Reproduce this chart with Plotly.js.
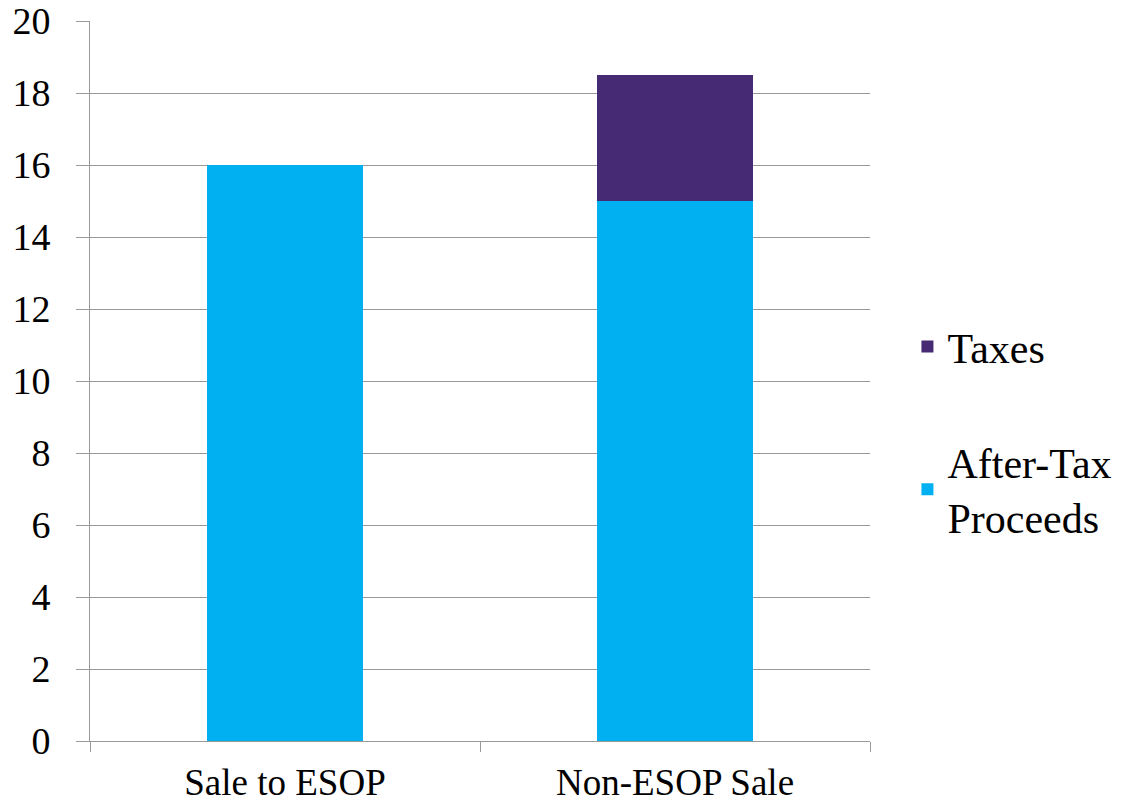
<!DOCTYPE html>
<html>
<head>
<meta charset="utf-8">
<script src="https://cdn.plot.ly/plotly-3.0.1.min.js"></script>
</head>
<body style="margin:0">
<div id="chart"></div>
<script>
const categories = ["Sale to ESOP", "Non-ESOP Sale"];
const afterTax = [16, 15];
const taxes = [0, 3.5];
const seriesNames = ["After-Tax<br>Proceeds", "Taxes"];
const yTicks = [0, 2, 4, 6, 8, 10, 12, 14, 16, 18, 20];

const fontFamily = "Liberation Serif";
const traces = [
  {type: "bar", x: categories, y: afterTax, name: seriesNames[0], legendgroup: "a", legendrank: 2,
   marker: {color: "#00B0F0"}, width: 0.4},
  {type: "bar", x: categories, y: taxes, name: seriesNames[1], legendgroup: "b", legendrank: 1,
   marker: {color: "#462A73"}, width: 0.4}
];
const layout = {
  width: 1129, height: 803,
  margin: {l: 90, r: 259, t: 21, b: 62},
  barmode: "stack",
  paper_bgcolor: "#fff", plot_bgcolor: "#fff",
  font: {family: fontFamily, color: "#000", size: 37},
  showlegend: true,
  legend: {x: 1.048, xanchor: "left", y: 0.595, yanchor: "top",
    traceorder: "grouped", tracegroupgap: 58,
    font: {family: fontFamily, size: 42, color: "#000"}},
  xaxis: {type: "category", tickson: "boundaries", ticks: "outside", ticklen: 10,
    tickcolor: "#999", showline: true, linecolor: "#999", linewidth: 1,
    showgrid: false, ticklabelstandoff: 9, tickfont: {family: fontFamily, size: 37, color: "#000"}},
  yaxis: {range: [0, 20], tickvals: yTicks, ticktext: yTicks.map(String),
    ticks: "outside", ticklen: 13, tickcolor: "#999",
    showline: true, linecolor: "#999", linewidth: 1,
    showgrid: true, gridcolor: "#999", gridwidth: 1, zeroline: false,
    ticklabelstandoff: 18, tickfont: {family: fontFamily, size: 38, color: "#000"}}
};
Plotly.newPlot("chart", traces, layout, {displayModeBar: false});
</script>
</body>
</html>
